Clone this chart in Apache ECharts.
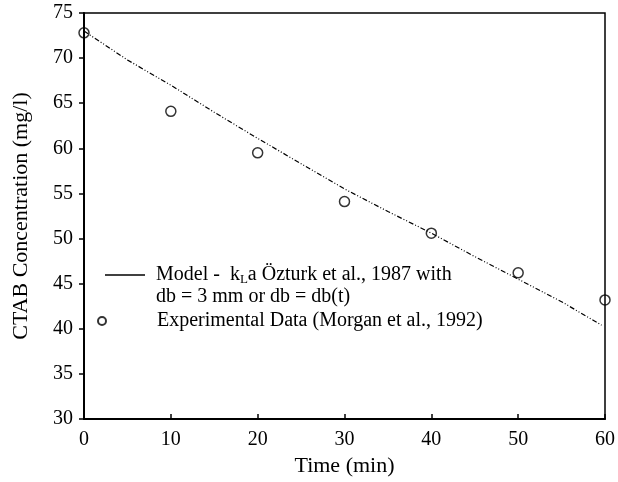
<!DOCTYPE html>
<html>
<head>
<meta charset="utf-8">
<script src="https://cdn.jsdelivr.net/npm/echarts@6/dist/echarts.min.js"></script>
<style>
    html, body { margin: 0; padding: 0; background: #fff; }
    #chart { width: 618px; height: 482px; }
</style>
</head>
<body>
<div id="chart"></div>
<script>
/*
|--------------------------------------------------------------------------
| Data
|--------------------------------------------------------------------------
*/

const modelTimes = [0, 5, 10, 15, 20, 25, 30, 35, 40, 45, 50, 55, 59.6];
const modelValues = [73.0, 69.8, 67.0, 64.0, 61.1, 58.3, 55.5, 53.0, 50.6, 48.0, 45.5, 43.0, 40.4];

const expTimes = [0, 10, 20, 30, 40, 50, 60];
const expValues = [72.8, 64.1, 59.5, 54.1, 50.6, 46.2, 43.2];

const modelName = 'Model';
const expName = 'Experimental';

/*
|--------------------------------------------------------------------------
| Chart
|--------------------------------------------------------------------------
*/

const font = 'Liberation Serif';
const chart = echarts.init(document.getElementById('chart'), null, { renderer: 'canvas' });

chart.setOption({
    animation: false,
    backgroundColor: '#fff',
    grid: {
        left: 84, right: 13, top: 13, bottom: 63,
        outerBoundsMode: 'none', // keep the plot box exactly where it is set
        show: true, borderColor: '#000', borderWidth: 1.5,
    },
    legend: [
        {
            left: 105, top: 242, padding: 0,
            itemWidth: 40, itemHeight: 1.5,
            // Plain bar icon so no symbol dot is drawn on the legend line
            data: [{ name: modelName, icon: 'rect', itemStyle: { color: '#000' } }],
            formatter: () => 'Model -  k{sub|L}a Özturk et al., 1987 with\ndb = 3 mm or db = db(t)',
            textStyle: {
                fontFamily: font, fontSize: 20, lineHeight: 22, color: '#000',
                padding: [22, 0, 0, 6],
                rich: { sub: { fontFamily: font, fontSize: 13, lineHeight: 22, verticalAlign: 'bottom', color: '#000' } },
            },
        },
        {
            left: 97, top: 310, padding: 0,
            itemWidth: 8, itemHeight: 8,
            data: [{ name: expName, icon: 'circle' }],
            formatter: () => 'Experimental Data (Morgan et al., 1992)',
            textStyle: {
                fontFamily: font, fontSize: 20, lineHeight: 22, color: '#000',
                padding: [0, 0, 0, 46],
            },
        },
    ],
    xAxis: {
        type: 'value', min: 0, max: 60, interval: 10,
        name: 'Time (min)', nameLocation: 'middle', nameGap: 36,
        nameTextStyle: { fontFamily: font, fontSize: 22, color: '#000' },
        axisLine: { show: true, lineStyle: { color: '#000', width: 2 } },
        axisTick: { show: true, inside: true, length: 5, lineStyle: { color: '#000', width: 1.5 } },
        axisLabel: { fontFamily: font, fontSize: 20, color: '#000', margin: 11 },
        splitLine: { show: false },
    },
    yAxis: {
        type: 'value', min: 30, max: 75, interval: 5,
        name: 'CTAB Concentration (mg/l)', nameLocation: 'middle', nameGap: 52,
        nameTextStyle: { fontFamily: font, fontSize: 22, color: '#000' },
        axisLine: { show: true, lineStyle: { color: '#000', width: 2 } },
        axisTick: { show: true, inside: false, length: 5, lineStyle: { color: '#000', width: 1.5 } },
        axisLabel: { fontFamily: font, fontSize: 20, color: '#000', margin: 11 },
        splitLine: { show: false },
    },
    series: [
        {
            name: modelName,
            type: 'line',
            symbol: 'none',
            color: '#000',
            lineStyle: { color: '#000', width: 1.2, type: [5, 2, 1, 2, 1, 2] },
            data: modelTimes.map((t, i) => [t, modelValues[i]]),
            z: 2,
        },
        {
            name: expName,
            type: 'scatter',
            symbol: 'circle',
            symbolSize: 10,
            clip: false,
            itemStyle: { color: 'rgba(255,255,255,0)', borderColor: '#000', borderWidth: 1.5 },
            data: expTimes.map((t, i) => [t, expValues[i]]),
            z: 3,
        },
    ],
});
</script>
</body>
</html>
